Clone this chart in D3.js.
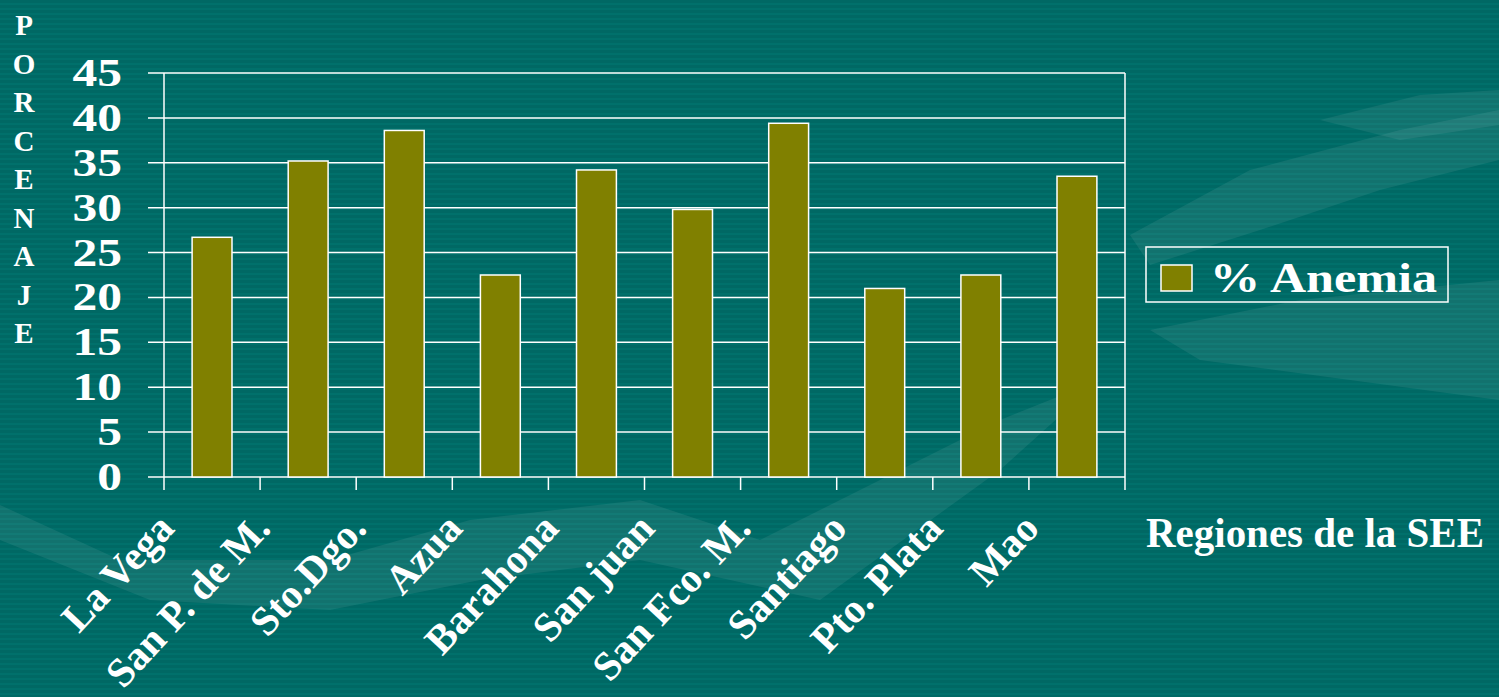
<!DOCTYPE html>
<html>
<head>
<meta charset="utf-8">
<script src="https://cdn.jsdelivr.net/npm/d3@7"></script>
<style>
  body { margin: 0; background: #006864; overflow: hidden; }
  text { font-family: "Liberation Serif", "Times New Roman", serif; font-weight: bold; fill: #fff; }
</style>
</head>
<body>
<div id="chart"></div>
<script>
// datos
var regiones = ["La Vega", "San P. de M.", "Sto.Dgo.", "Azua", "Barahona",
                "San juan", "San Fco. M.", "Santiago", "Pto. Plata", "Mao"];
var anemia = [26.7, 35.2, 38.6, 22.5, 34.2, 29.8, 39.4, 21.0, 22.5, 33.5];
var yTicks = [0, 5, 10, 15, 20, 25, 30, 35, 40, 45];
var serie = "% Anemia";
var tituloY = "PORCENAJE".split("");
var tituloX = "Regiones de la SEE";

var W = 1499, H = 697;
var svg = d3.select("#chart").append("svg")
	.attr("width", W)
	.attr("height", H);

// fondo con rayas finas
var defs = svg.append("defs");
var pat = defs.append("pattern")
	.attr("id", "rayas")
	.attr("width", 8).attr("height", 5)
	.attr("patternUnits", "userSpaceOnUse");
pat.append("rect").attr("width", 8).attr("height", 5).attr("fill", "#006864");
pat.append("rect").attr("y", 3).attr("width", 8).attr("height", 2).attr("fill", "#00706b");

svg.append("rect").attr("width", W).attr("height", H).attr("fill", "url(#rayas)");

// formas decorativas del fondo
var formas = [
	"M0,505 L120,560 L330,560 L470,520 L640,500 L760,540 L900,470 L1000,420 L1100,380 L1000,470 L820,600 L640,560 L480,580 L330,610 L150,600 L0,540 Z",
	"M1130,235 L1250,170 L1400,130 L1499,110 L1499,160 L1380,190 L1260,230 L1150,265 Z",
	"M1320,120 L1420,95 L1499,90 L1499,125 L1400,140 Z",
	"M1150,330 L1300,300 L1499,280 L1499,400 L1350,380 L1200,360 Z"
];
svg.selectAll("path.forma")
	.data(formas)
	.enter()
	.append("path")
	.attr("class", "forma")
	.attr("d", function(d) { return d; })
	.attr("fill", "#fff")
	.attr("opacity", 0.07);

var x0 = 164, x1 = 1125, yTop = 73, yBot = 477;

var x = d3.scaleBand()
	.domain(regiones)
	.range([x0, x1])
	.paddingInner(0.585)
	.paddingOuter(0.2925);

var xSlot = d3.scaleBand()
	.domain(regiones)
	.range([x0, x1]);

var y = d3.scaleLinear()
	.domain([0, 45])
	.range([yBot, yTop]);

// lineas de cuadricula
svg.selectAll("line.grid")
	.data(yTicks)
	.enter()
	.append("line")
	.attr("x1", x0 - 16)
	.attr("x2", x1)
	.attr("y1", function(d) { return y(d); })
	.attr("y2", function(d) { return y(d); })
	.attr("stroke", "#fff")
	.attr("stroke-width", 1.5);

// ejes verticales
svg.append("line").attr("x1", x0).attr("x2", x0).attr("y1", yTop).attr("y2", yBot + 13)
	.attr("stroke", "#fff").attr("stroke-width", 1.5);
svg.append("line").attr("x1", x1).attr("x2", x1).attr("y1", yTop).attr("y2", yBot + 13)
	.attr("stroke", "#fff").attr("stroke-width", 1.5);

// marcas del eje x
svg.selectAll("line.tickx")
	.data(regiones.slice(1))
	.enter()
	.append("line")
	.attr("x1", function(d) { return xSlot(d); })
	.attr("x2", function(d) { return xSlot(d); })
	.attr("y1", yBot)
	.attr("y2", yBot + 13)
	.attr("stroke", "#fff")
	.attr("stroke-width", 1.5);

// barras
svg.selectAll("rect.bar")
	.data(anemia)
	.enter()
	.append("rect")
	.attr("class", "bar")
	.attr("x", function(d, i) { return x(regiones[i]); })
	.attr("y", function(d) { return y(d); })
	.attr("width", x.bandwidth())
	.attr("height", function(d) { return yBot - y(d); })
	.attr("fill", "#808000")
	.attr("stroke", "#fff")
	.attr("stroke-width", 1.5);

// etiquetas eje y
svg.selectAll("text.ytick")
	.data(yTicks)
	.enter()
	.append("text")
	.attr("class", "ytick")
	.attr("transform", function(d) { return "translate(122," + (y(d) + 13) + ") scale(1.27,1)"; })
	.attr("text-anchor", "end")
	.attr("font-size", "39px")
	.text(function(d) { return d; });

// etiquetas eje x
svg.selectAll("text.xlab")
	.data(regiones)
	.enter()
	.append("text")
	.attr("class", "xlab")
	.attr("transform", function(d) {
		return "translate(" + (xSlot(d) + xSlot.bandwidth() / 2 - 36) + ",530) rotate(-47)";
	})
	.attr("text-anchor", "end")
	.attr("font-size", "41px")
	.text(function(d) { return d; });

// titulo vertical
svg.selectAll("text.ty")
	.data(tituloY)
	.enter()
	.append("text")
	.attr("class", "ty")
	.attr("x", 24)
	.attr("y", function(d, i) { return 35 + i * 38.5; })
	.attr("text-anchor", "middle")
	.attr("font-size", "29px")
	.text(function(d) { return d; });

// titulo eje x
svg.append("text")
	.attr("x", 1146)
	.attr("y", 547)
	.attr("font-size", "42px")
	.attr("textLength", 338)
	.attr("lengthAdjust", "spacingAndGlyphs")
	.text(tituloX);

// leyenda
var leg = svg.append("g");
leg.append("rect")
	.attr("x", 1146).attr("y", 247)
	.attr("width", 302).attr("height", 55)
	.attr("fill", "none")
	.attr("stroke", "#fff")
	.attr("stroke-width", 1.5);
leg.append("rect")
	.attr("x", 1161).attr("y", 265)
	.attr("width", 31).attr("height", 26)
	.attr("fill", "#808000")
	.attr("stroke", "#fff")
	.attr("stroke-width", 1.5);
leg.append("text")
	.attr("x", 1210)
	.attr("y", 292)
	.attr("font-size", "43px")
	.attr("textLength", 227)
	.attr("lengthAdjust", "spacingAndGlyphs")
	.text(serie);
</script>
</body>
</html>
